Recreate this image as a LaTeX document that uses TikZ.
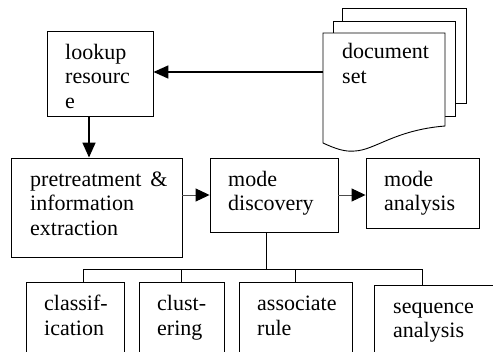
\documentclass[tikz,border=0pt]{standalone}
\usepackage{fontspec}
\setmainfont{Liberation Serif}
\usetikzlibrary{arrows.meta}
\begin{document}
\begin{tikzpicture}[x=1pt,y=-1pt,
  box/.style={draw, line width=0.9pt, rectangle, inner sep=0pt},
  txt/.style={anchor=north west, inner sep=0pt, align=left, font=\fontsize{22}{24.5}\selectfont, yshift=17.15pt},
  arr/.style={line width=1.6pt, -{Triangle[length=15pt,width=13pt]}},
  arrg/.style={line width=1pt, draw=black!70, -{Triangle[length=14pt,width=13pt,color=black]}},
  ln/.style={line width=0.9pt}]
\useasboundingbox (0,0) rectangle (493,351);
\clip (0,0) rectangle (493,351);

% boxes
\node[box, minimum width=106pt, minimum height=85pt] (lookup) at (100,73.5) {};
\node[box, minimum width=171pt, minimum height=99pt] (pre) at (96.5,207.5) {};
\node[box, minimum width=128pt, minimum height=74pt] (disc) at (274,195) {};
\node[box, minimum width=113pt, minimum height=70pt] (anal) at (422.5,193) {};
\node[box, minimum width=98pt, minimum height=118pt] (cls) at (75,341) {};
\node[box, minimum width=85pt, minimum height=118pt] (clu) at (181.5,341) {};
\node[box, minimum width=113pt, minimum height=118pt] (asr) at (295.5,341) {};
\node[box, minimum width=146pt, minimum height=115pt] (seq) at (447,342.5) {};

% document set (stack)
\draw[ln, fill=white] (342,8) rectangle (466,103);
\draw[ln, fill=white] (333,21) rectangle (455,116);
\draw[ln, fill=white] (323,33) -- (445,33) -- (445,126)
  .. controls (395,130) and (375,150) .. (355,151)
  .. controls (345,152) and (336,149) .. (323,143) -- cycle;
\coordinate (docL) at (323,72);

% texts
\node[txt] (tlookup) at (65,59) {\strut lookup\\resourc\\e};
\node[txt] (tdoc) at (342,58.3) {\strut document\\set};
\node[txt] (tpre) at (30,186) {\strut pretreatment\hspace{9pt}\&\\information\\extraction};
\node[txt] (tdisc) at (228,186) {\strut mode\\discovery};
\node[txt] (tanal) at (384,186) {\strut mode\\analysis};
\node[txt] (tcls) at (44,310.7) {\strut classif-\\ication};
\node[txt] (tclu) at (157,310.7) {\strut clust-\\ering};
\node[txt] (tasr) at (257,310.7) {\strut associate\\rule};
\node[txt] (tseq) at (393,313) {\strut sequence\\analysis};

% arrows
\coordinate (dx) at (89,0);
\draw[arr] (docL) -- (lookup.east |- docL);
\draw[arr] (lookup.south -| dx) -- (pre.north -| dx);
\draw[arrg] (pre.east |- disc.west) -- (disc.west);
\draw[arrg] (disc.east) -- (anal.west |- disc.east);

% tree
\coordinate (busL) at (83,269);
\coordinate (busR) at (422,269);
\coordinate (stem) at (266,269);
\draw[ln] (disc.south -| stem) -- (stem);
\draw[ln] (busL) -- (busR);
\draw[ln] (busL) -- (cls.north -| busL);
\draw[ln] (clu.north |- busL) -- (clu.north);
\draw[ln] (asr.north |- busL) -- (asr.north);
\draw[ln] (busR) -- (seq.north -| busR);
\end{tikzpicture}
\end{document}
